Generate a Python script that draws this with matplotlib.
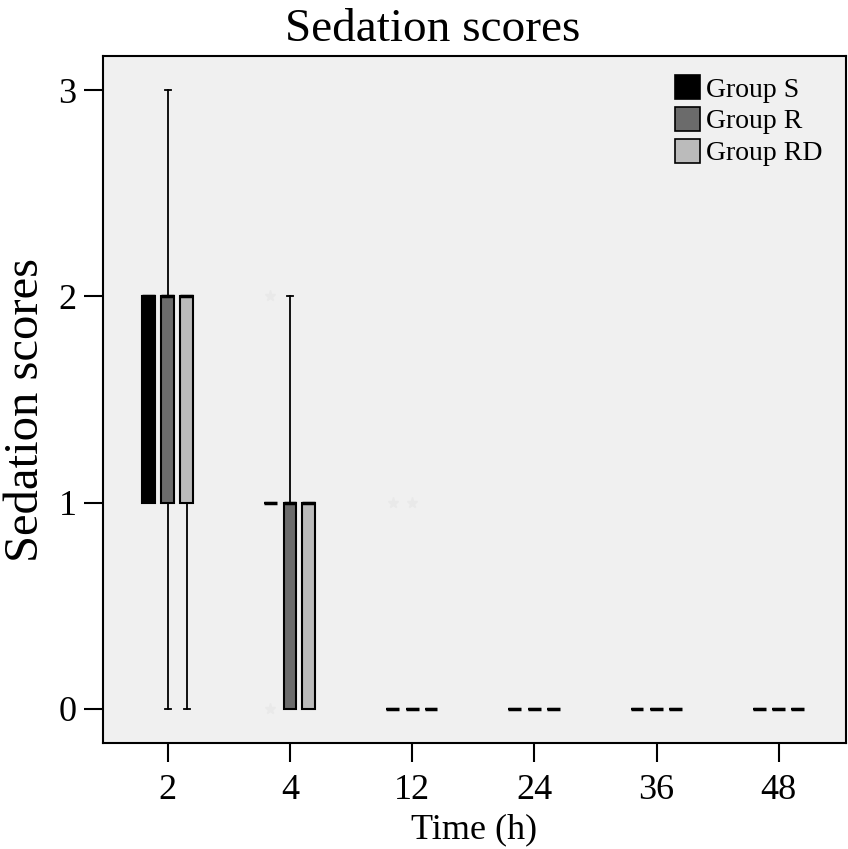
import numpy as np
import matplotlib.pyplot as plt
from matplotlib.patches import Patch

plt.rcParams['font.family'] = ['Liberation Serif', 'DejaVu Serif']

times = ['2', '4', '12', '24', '36', '48']
groups = ['Group S', 'Group R', 'Group RD']
colors = ['#000000', '#6b6b6b', '#bbbbbb']

# box statistics per group, one entry per time point
q1 = {'Group S': [1, 1, 0, 0, 0, 0],
      'Group R': [1, 0, 0, 0, 0, 0],
      'Group RD': [1, 0, 0, 0, 0, 0]}
med = {'Group S': [2, 1, 0, 0, 0, 0],
       'Group R': [2, 1, 0, 0, 0, 0],
       'Group RD': [2, 1, 0, 0, 0, 0]}
q3 = {'Group S': [2, 1, 0, 0, 0, 0],
      'Group R': [2, 1, 0, 0, 0, 0],
      'Group RD': [2, 1, 0, 0, 0, 0]}
whislo = {'Group S': [1, 1, 0, 0, 0, 0],
          'Group R': [0, 0, 0, 0, 0, 0],
          'Group RD': [0, 0, 0, 0, 0, 0]}
whishi = {'Group S': [2, 1, 0, 0, 0, 0],
          'Group R': [3, 2, 0, 0, 0, 0],
          'Group RD': [2, 1, 0, 0, 0, 0]}
outliers = {'Group S': [[], [2, 0], [1], [], [], []],
            'Group R': [[], [], [1], [], [], []],
            'Group RD': [[], [], [], [], [], []]}

offsets = [-0.16, 0.0, 0.155]
box_w = 0.105

fig = plt.figure(figsize=(8.48, 8.49), dpi=100)
ax = fig.add_axes([0.1215, 0.1249, 0.876, 0.8091])
ax.set_facecolor('#f0f0f0')

x = np.arange(len(times))
for g, off, c in zip(groups, offsets, colors):
    stats = []
    for i in range(len(times)):
        stats.append(dict(q1=q1[g][i], med=med[g][i], q3=q3[g][i],
                          whislo=whislo[g][i], whishi=whishi[g][i],
                          fliers=outliers[g][i]))
    ax.bxp(stats, positions=x + off, widths=box_w, patch_artist=True,
           capwidths=0.05, manage_ticks=False,
           boxprops=dict(facecolor=c, edgecolor='black', linewidth=1.5),
           medianprops=dict(color='black', linewidth=2.5),
           whiskerprops=dict(color='black', linewidth=1.3),
           capprops=dict(color='black', linewidth=1.3),
           flierprops=dict(marker='*', markersize=8, markerfacecolor='#e9e9e9',
                           markeredgecolor='#e9e9e9'))

ax.set_xlim(-0.53, 5.55)
ax.set_ylim(-0.165, 3.165)
ax.set_xticks(x)
ax.set_xticklabels(times)
ax.set_yticks([0, 1, 2, 3])
ax.tick_params(axis='both', direction='out', length=14, width=1.5,
               labelsize=26, pad=5)
ax.tick_params(axis='x', pad=8)
for s in ax.spines.values():
    s.set_linewidth(1.5)

fig.text(0.51, 0.965, 'Sedation scores', fontsize=34, ha='center', va='center')
ax.set_xlabel('Time (h)', fontsize=26, labelpad=5)
ax.set_ylabel('Sedation scores', fontsize=35)
ax.yaxis.set_label_coords(-0.074, 0.485)

handles = [Patch(facecolor=c, edgecolor='black', linewidth=1.2) for c in colors]
ax.legend(handles, groups, loc='upper right', frameon=False, fontsize=20,
          handlelength=0.9, handleheight=0.95, handletextpad=0.2,
          labelspacing=0.15, borderaxespad=0.0, borderpad=0.0,
          bbox_to_anchor=(0.968, 0.972))

fig.savefig('out.png', dpi=100)
